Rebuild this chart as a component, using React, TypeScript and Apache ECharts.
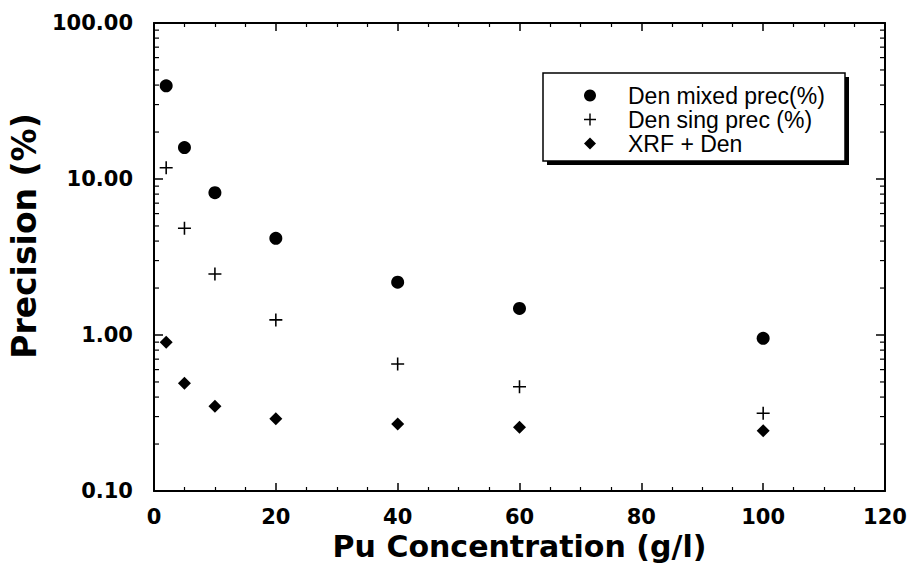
import React, { useEffect, useRef } from "react";
import * as echarts from "echarts";

const concentrations = [2, 5, 10, 20, 40, 60, 100];
const denMixed = [39.6, 15.9, 8.17, 4.17, 2.18, 1.48, 0.953];
const denSing = [11.8, 4.83, 2.46, 1.25, 0.652, 0.466, 0.315];
const xrfDen = [0.9, 0.49, 0.35, 0.29, 0.269, 0.256, 0.243];
const seriesNames = ["Den mixed prec(%)", "Den sing prec (%)", "XRF + Den"];
const logMinorTicks = [
  0.2, 0.3, 0.4, 0.5, 0.6, 0.7, 0.8, 0.9,
  2, 3, 4, 5, 6, 7, 8, 9,
  20, 30, 40, 50, 60, 70, 80, 90,
];

const PLUS =
  "path://M4.4,0 H5.6 V4.4 H10 V5.6 H5.6 V10 H4.4 V5.6 H0 V4.4 H4.4 Z";

const TICK_FONT = "DejaVu Sans";

export default function App() {
  const ref = useRef<HTMLDivElement>(null);
  useEffect(() => {
    document.body.style.margin = "0";
    const chart = echarts.init(ref.current!, null, { renderer: "svg" });
    const pair = (ys: number[]) => concentrations.map((x, i) => [x, ys[i]]);
    const xBase = {
      type: "value",
      min: 0,
      max: 120,
      interval: 20,
      splitLine: { show: false },
      axisLine: { show: true, onZero: false, lineStyle: { color: "#000", width: 2 } },
      axisTick: { show: true, inside: true, length: 8, lineStyle: { color: "#000", width: 1.5 } },
      minorTick: { show: true, splitNumber: 4, length: 4, lineStyle: { color: "#000", width: 1.2 } },
    };
    const yBase = {
      type: "log",
      logBase: 10,
      min: 0.1,
      max: 100,
      splitLine: { show: false },
      axisLine: { show: true, onZero: false, lineStyle: { color: "#000", width: 2 } },
      axisTick: { show: true, inside: true, length: 9, lineStyle: { color: "#000", width: 1.5 } },
    };
    chart.setOption({
      animation: false,
      backgroundColor: "#fff",
      grid: { left: 154, right: 25, top: 23, bottom: 80 },
      xAxis: [
        {
          ...xBase,
          position: "bottom",
          name: "Pu Concentration (g/l)",
          nameLocation: "middle",
          nameGap: 40,
          nameTextStyle: { fontFamily: TICK_FONT, fontWeight: "bold", fontSize: 30, color: "#000" },
          axisLabel: { margin: 15, fontFamily: TICK_FONT, fontWeight: "bold", fontSize: 21, color: "#000" },
        },
        { ...xBase, position: "top", axisLabel: { show: false } },
      ],
      yAxis: [
        {
          ...yBase,
          position: "left",
          name: "Precision (%)",
          nameLocation: "middle",
          nameGap: 108,
          nameTextStyle: {
            fontFamily: TICK_FONT,
            fontWeight: "bold",
            fontSize: 33,
            color: "#000",
            padding: [0, 0, 0, 42],
          },
          axisLabel: {
            margin: 21,
            fontFamily: TICK_FONT,
            fontWeight: "bold",
            fontSize: 21,
            color: "#000",
            formatter: (v: number) => Number(v).toFixed(2),
          },
        },
        { ...yBase, position: "right", axisLabel: { show: false } },
      ],
      graphic: [
        { type: "rect", z: 1, shape: { x: 547, y: 77, width: 302, height: 88 }, style: { fill: "#000" } },
        {
          type: "rect",
          z: 2,
          shape: { x: 543, y: 73, width: 302, height: 88 },
          style: { fill: "#fff", stroke: "#000", lineWidth: 1.5 },
        },
      ],
      legend: {
        z: 10,
        orient: "vertical",
        left: 584,
        top: 84,
        padding: 0,
        itemGap: 1,
        itemWidth: 12,
        itemHeight: 12,
        data: seriesNames,
        textStyle: {
          fontFamily: "Liberation Sans",
          fontSize: 23,
          lineHeight: 22,
          color: "#000",
          padding: [0, 0, 0, 27],
        },
      },
      series: [
        {
          name: seriesNames[0],
          type: "scatter",
          symbol: "circle",
          symbolSize: 13,
          itemStyle: { color: "#000", opacity: 1 },
          data: pair(denMixed),
        },
        {
          name: seriesNames[1],
          type: "scatter",
          symbol: PLUS,
          symbolSize: 13,
          itemStyle: { color: "#000", opacity: 1 },
          data: pair(denSing),
        },
        {
          name: seriesNames[2],
          type: "scatter",
          symbol: "diamond",
          symbolSize: 13,
          itemStyle: { color: "#000", opacity: 1 },
          data: pair(xrfDen),
        },
        {
          name: "logMinor",
          type: "custom",
          silent: true,
          xAxisIndex: 0,
          yAxisIndex: 0,
          data: logMinorTicks.map((v) => [0, v]),
          renderItem: (params: any, api: any) => {
            const v = api.value(1);
            const l = api.coord([0, v]);
            const r = api.coord([120, v]);
            const style = { stroke: "#000", lineWidth: 1.2 };
            return {
              type: "group",
              children: [
                { type: "line", shape: { x1: l[0], y1: l[1], x2: l[0] + 5, y2: l[1] }, style },
                { type: "line", shape: { x1: r[0], y1: r[1], x2: r[0] - 5, y2: r[1] }, style },
              ],
            };
          },
        },
      ],
    });
    return () => chart.dispose();
  }, []);
  return <div ref={ref} style={{ width: 910, height: 571 }} />;
}
